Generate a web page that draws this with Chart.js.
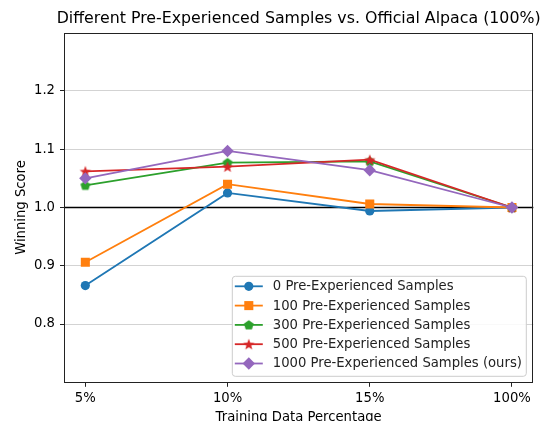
<!DOCTYPE html>
<html>
<head>
<meta charset="utf-8">
<script src="https://cdn.jsdelivr.net/npm/chart.js@4.4.1/dist/chart.umd.min.js"></script>
<style>
  html, body { margin: 0; padding: 0; background: #ffffff; }
  #wrap { width: 546px; height: 421px; }
</style>
</head>
<body>
<div id="wrap"><canvas id="c" width="546" height="421"></canvas></div>
<script>
// ---- data ----
const categories = ["5%", "10%", "15%", "100%"];
const seriesNames = [
  "0 Pre-Experienced Samples",
  "100 Pre-Experienced Samples",
  "300 Pre-Experienced Samples",
  "500 Pre-Experienced Samples",
  "1000 Pre-Experienced Samples (ours)"
];
const samples0    = [0.866, 1.025, 0.994, 1.000];
const samples100  = [0.906, 1.040, 1.006, 1.000];
const samples300  = [1.038, 1.077, 1.079, 1.000];
const samples500  = [1.062, 1.070, 1.082, 1.000];
const samples1000 = [1.050, 1.097, 1.064, 1.000];
const yTicks = [0.8, 0.9, 1.0, 1.1, 1.2];
const referenceLine = 1.0;
const chartTitle = 'Different Pre-Experienced Samples vs. Official Alpaca (100%)';

const colors = ["#1f77b4", "#ff7f0e", "#2ca02c", "#d62728", "#9467bd"];
const FONT = "'DejaVu Sans', sans-serif";
const FS = 13.2;

function makeShape(color, kind) {
  const s = 14;
  const cv = document.createElement('canvas');
  cv.width = s; cv.height = s;
  const g = cv.getContext('2d');
  g.fillStyle = color;
  g.beginPath();
  const cx = s / 2, cy = s / 2;
  if (kind === 'pentagon') {
    const r = 5.2;
    for (let i = 0; i < 5; i++) {
      const a = -Math.PI / 2 + i * 2 * Math.PI / 5;
      const x = cx + r * Math.cos(a), y = cy + 0.4 + r * Math.sin(a);
      if (i === 0) g.moveTo(x, y); else g.lineTo(x, y);
    }
  } else {
    const ro = 6.0, ri = 2.5;
    for (let i = 0; i < 10; i++) {
      const a = -Math.PI / 2 + i * Math.PI / 5;
      const r = i % 2 === 0 ? ro : ri;
      const x = cx + r * Math.cos(a), y = cy + 0.5 + r * Math.sin(a);
      if (i === 0) g.moveTo(x, y); else g.lineTo(x, y);
    }
  }
  g.closePath();
  g.fill();
  return cv;
}

const pointStyles = ['circle', 'rect', makeShape(colors[2], 'pentagon'), makeShape(colors[3], 'star'), 'rectRot'];
const pointRadii = [4.6, 6.4, 5, 5, 6.2];
const seriesValues = [samples0, samples100, samples300, samples500, samples1000];

const datasets = seriesValues.map((vals, i) => ({
  label: seriesNames[i],
  data: vals.map((v, j) => ({ x: j, y: v })),
  borderColor: colors[i],
  backgroundColor: colors[i],
  borderWidth: 1.8,
  pointStyle: pointStyles[i],
  pointRadius: pointRadii[i],
  pointBorderWidth: 0,
  pointBackgroundColor: colors[i],
  pointBorderColor: colors[i],
  tension: 0,
  order: 4 - i
}));

const framePlugin = {
  id: 'frame',
  beforeDatasetsDraw(chart) {
    const { ctx, chartArea: a, scales } = chart;
    const y = scales.y.getPixelForValue(referenceLine);
    ctx.save();
    ctx.strokeStyle = '#000000';
    ctx.lineWidth = 1.5;
    ctx.beginPath();
    ctx.moveTo(a.left, y);
    ctx.lineTo(a.right, y);
    ctx.stroke();
    ctx.restore();
  },
  afterDatasetsDraw(chart) {
    const { ctx, chartArea: a } = chart;
    ctx.save();
    ctx.strokeStyle = '#222222';
    ctx.lineWidth = 1;
    ctx.strokeRect(Math.round(a.left) + 0.5, Math.round(a.top) + 0.5,
                   Math.round(a.right - a.left) - 1, Math.round(a.bottom - a.top) - 1);
    ctx.restore();
  },
  afterDraw(chart) {
    const { ctx, chartArea: a } = chart;
    ctx.save();
    // title centred over the plot area
    ctx.font = '15.8px ' + FONT;
    ctx.fillStyle = '#000000';
    ctx.textAlign = 'center';
    ctx.textBaseline = 'middle';
    ctx.fillText(chartTitle, (a.left + a.right) / 2, 18.5);

    // legend inside plot area, lower right
    const boxW = 294, boxH = 100;
    const bx = a.right - 7.5 - boxW, by = a.bottom - 6.5 - boxH;
    ctx.fillStyle = 'rgba(255,255,255,0.85)';
    ctx.strokeStyle = '#cccccc';
    ctx.lineWidth = 1;
    ctx.beginPath();
    if (ctx.roundRect) ctx.roundRect(bx + 0.5, by + 0.5, boxW, boxH, 3);
    else ctx.rect(bx + 0.5, by + 0.5, boxW, boxH);
    ctx.fill();
    ctx.stroke();
    ctx.font = FS + 'px ' + FONT;
    ctx.textBaseline = 'middle';
    ctx.textAlign = 'left';
    chart.data.datasets.forEach((ds, i) => {
      const cy = by + 10.5 + i * 19.3;
      ctx.strokeStyle = ds.borderColor;
      ctx.lineWidth = 1.8;
      ctx.beginPath();
      ctx.moveTo(bx + 3, cy);
      ctx.lineTo(bx + 31, cy);
      ctx.stroke();
      ctx.fillStyle = ds.backgroundColor;
      ctx.strokeStyle = ds.borderColor;
      Chart.helpers.drawPoint(ctx, { pointStyle: ds.pointStyle, radius: ds.pointRadius, rotation: 0, borderWidth: 0 }, bx + 17, cy);
      ctx.fillStyle = '#222222';
      ctx.fillText(ds.label, bx + 41, cy + 0.5);
    });
    ctx.restore();
  }
};

new Chart(document.getElementById('c'), {
  type: 'line',
  data: { datasets },
  options: {
    responsive: false,
    animation: false,
    events: [],
    layout: { padding: { left: 0, right: 12.7, top: 32.7, bottom: 0 } },
    plugins: {
      legend: { display: false },
      tooltip: { enabled: false },
      title: { display: false }
    },
    scales: {
      x: {
        type: 'linear',
        min: -0.15,
        max: 3.15,
        afterBuildTicks(scale) { scale.ticks = categories.map((c, i) => ({ value: i })); },
        afterFit(scale) { scale.height = 38.7; },
        ticks: {
          color: '#000000',
          font: { family: FONT, size: FS },
          padding: 3.5,
          autoSkip: false,
          maxRotation: 0,
          callback: (v) => categories[v]
        },
        grid: { drawOnChartArea: false, drawTicks: true, tickLength: 4.5, tickColor: '#222222', tickWidth: 1 },
        border: { display: false },
        title: {
          display: true,
          text: 'Training Data Percentage',
          color: '#000000',
          font: { family: FONT, size: FS },
          padding: { top: 0, bottom: -4 }
        }
      },
      y: {
        type: 'linear',
        min: 0.7,
        max: 1.3,
        afterBuildTicks(scale) { scale.ticks = yTicks.map(v => ({ value: v })); },
        afterFit(scale) { scale.width = 64; },
        ticks: {
          color: '#000000',
          font: { family: FONT, size: FS },
          padding: 5,
          callback: (v) => v.toFixed(1)
        },
        grid: { color: '#d3d3d3', lineWidth: 1, drawTicks: true, tickLength: 4, tickColor: '#222222', tickWidth: 1 },
        border: { display: false },
        title: {
          display: true,
          text: 'Winning Score',
          color: '#000000',
          font: { family: FONT, size: FS },
          padding: { top: 13.5, bottom: 13.5 }
        }
      }
    }
  },
  plugins: [framePlugin]
});
</script>
</body>
</html>
